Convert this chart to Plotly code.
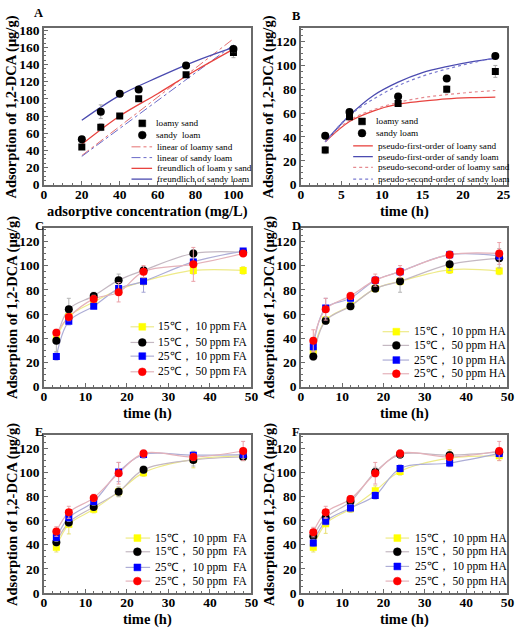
import plotly.graph_objects as go

FONT = "Liberation Serif, Times New Roman, serif"
W, H = 524, 638

# ---------------- Panel A data ----------------
A_conc = [20, 30, 40, 50, 75, 100]
A_loamy = [44, 67, 80, 100, 128, 154]
A_loamy_err = [3, 4, 2, 3, 2, 6]
A_sandy = [53, 85, 106, 111, 139, 158]
A_sandy_err = [3, 8, 2, 3, 2, 4]
A_lin_x = [20, 100]
A_lin_loamy = [34, 170]
A_lin_sandy = [33, 163]
A_fr_x = [20, 40, 60, 80, 100]
A_fr_loamy = [47, 80, 106, 133, 158]
A_fr_sandy = [75, 104, 125, 144, 160]

# ---------------- Panel B data ----------------
B_time = [3, 6, 12, 18, 24]
B_loamy = [29, 57, 68, 80, 95]
B_loamy_err = [3, 2, 2, 3, 5]
B_sandy = [41, 61, 74, 89, 108]
B_sandy_err = [2, 2, 2, 2, 2]
B_fit_x = [3, 6, 9, 12, 15, 18, 21, 24]
B_pfo_loamy = [36, 53, 62, 67.5, 70, 72, 73, 73.5]
B_pfo_sandy = [36, 58, 75, 86, 94, 99, 103, 106]
B_pso_loamy = [36, 54, 63, 69, 73, 75.5, 77.5, 79]
B_pso_sandy = [36, 58, 72, 83, 91, 97, 102, 106.5]

# ---------------- Panels C-F data ----------------
T = [3, 6, 12, 18, 24, 36, 48]

C_y10_15 = [40, 58, 70, 80, 87, 96, 96]
C_y50_15 = [38, 64, 75, 88, 96, 110, 111]
C_y10_25 = [25, 54, 66.5, 81, 87, 103, 112]
C_y50_25 = [44.5, 57.5, 72.5, 78, 95, 101, 110]
C_e10_15 = [3, 3, 3, 3, 3, 3, 3]
C_e50_15 = [9, 9, 3, 5, 3, 3, 2]
C_e10_25 = [3, 3, 2, 3, 9, 3, 2]
C_e50_25 = [3, 3, 3, 8, 5, 14, 2]

D_y10_15 = [30, 55, 67, 81, 87, 96.5, 95.5]
D_y50_15 = [25, 54.5, 66.5, 81, 87, 101, 106]
D_y10_25 = [33, 65, 73, 88, 95, 109, 108]
D_y50_25 = [38, 64, 75, 88, 95, 109, 110]
D_e10_15 = [3, 3, 3, 3, 3, 3, 3]
D_e50_15 = [3, 3, 3, 3, 9, 5, 8]
D_e10_25 = [3, 8, 3, 3, 3, 3, 3]
D_e50_25 = [9, 9, 3, 5, 5, 3, 9]

E_y10_15 = [38, 57, 69.5, 84, 100, 111, 114]
E_y50_15 = [42, 58.5, 71.5, 84, 102.5, 110.5, 113]
E_y10_25 = [46, 62.5, 76, 100.5, 115, 114.5, 115]
E_y50_25 = [51, 67, 79, 99.5, 116, 113, 118]
E_e10_15 = [4, 8, 3, 4, 3, 7, 4]
E_e50_15 = [3, 3, 3, 4, 3, 5, 3]
E_e10_25 = [3, 3, 3, 8, 3, 3, 3]
E_e50_25 = [4, 5, 3, 9, 3, 3, 8]

F_y10_15 = [38, 57.5, 70, 85, 101, 112, 114]
F_y50_15 = [47, 62.5, 76, 100.5, 115, 114.5, 117]
F_y10_25 = [41.5, 59.5, 70.5, 81, 103.5, 108, 116]
F_y50_25 = [50.5, 67, 78, 99.5, 116, 113, 118]
F_e10_15 = [4, 8, 3, 4, 3, 7, 4]
F_e50_15 = [3, 3, 3, 4, 3, 3, 3]
F_e10_25 = [3, 3, 3, 3, 3, 3, 3]
F_e50_25 = [4, 5, 3, 9, 3, 3, 8]

# ---------------- Labels ----------------
A_labels = ["loamy sand", "sandy\u00a0 loam", "linear of loamy sand", "linear of sandy loam",
            "freundlich of loam y sand", "freundlich of sandy loam"]
B_labels = ["loamy sand", "sandy loam", "pseudo-first-order of loany sand",
            "pseudo-first-order of sandy loam", "pseudo-second-order of loamy sand",
            "pseudo-second-order of sandy loam"]
C_labels = ["15℃，\u00a010 ppm FA", "15℃，\u00a050 ppm FA", "25℃，\u00a010 ppm FA", "25℃，\u00a050 ppm FA"]
D_labels = ["15℃，\u00a010 ppm HA", "15℃，\u00a050 ppm HA", "25℃，\u00a010 ppm HA", "25℃，\u00a050 ppm HA"]
E_labels = ["15℃，\u00a010 ppm\u00a0 FA", "15℃，\u00a050 ppm\u00a0 FA", "25℃，\u00a010 ppm\u00a0 FA", "25℃，\u00a050 ppm\u00a0 FA"]
F_labels = D_labels
panel_letters = ["A", "B", "C", "D", "E", "F"]
ytitle = "Adsorption of 1,2-DCA (μg/g)"

# ---------------- Styles ----------------
MK = {"yellow": "#ffff00", "black": "#000000", "blue": "#0000ff", "red": "#ff0000"}
LN = {"yellow": "#eeea88", "black": "#c4b8c2", "blue": "#adadd6", "red": "#e4b2ba"}
EB = {"yellow": "#e6de70", "black": "#b4b4b4", "blue": "#a4a4d4", "red": "#eaa0a8"}
RED_L = "#e8433f"
BLUE_L = "#4b4bb0"

fig = go.Figure()

def err(arr, color):
    return dict(type="data", array=arr, visible=True, color=color, thickness=1, width=2)

# Panel A
fig.add_trace(go.Scatter(x=A_lin_x, y=A_lin_loamy, mode="lines", line=dict(color="#e57070", width=1, dash="dashdot"), xaxis="x", yaxis="y"))
fig.add_trace(go.Scatter(x=A_lin_x, y=A_lin_sandy, mode="lines", line=dict(color="#6a6ac8", width=1, dash="dashdot"), xaxis="x", yaxis="y"))
fig.add_trace(go.Scatter(x=A_fr_x, y=A_fr_loamy, mode="lines", line=dict(color=RED_L, width=1.3, shape="spline"), xaxis="x", yaxis="y"))
fig.add_trace(go.Scatter(x=A_fr_x, y=A_fr_sandy, mode="lines", line=dict(color=BLUE_L, width=1.3, shape="spline"), xaxis="x", yaxis="y"))
fig.add_trace(go.Scatter(x=A_conc, y=A_loamy, mode="markers", marker=dict(symbol="square", size=7, color="black"),
                         error_y=err(A_loamy_err, "#a8a8a8"), xaxis="x", yaxis="y"))
fig.add_trace(go.Scatter(x=A_conc, y=A_sandy, mode="markers", marker=dict(symbol="circle", size=8, color="black"),
                         error_y=err(A_sandy_err, "#a8a8a8"), xaxis="x", yaxis="y"))

# Panel B
fig.add_trace(go.Scatter(x=B_fit_x, y=B_pfo_loamy, mode="lines", line=dict(color=RED_L, width=1.3, shape="spline"), xaxis="x2", yaxis="y2"))
fig.add_trace(go.Scatter(x=B_fit_x, y=B_pfo_sandy, mode="lines", line=dict(color=BLUE_L, width=1.3, shape="spline"), xaxis="x2", yaxis="y2"))
fig.add_trace(go.Scatter(x=B_fit_x, y=B_pso_loamy, mode="lines", line=dict(color="#e58a90", width=1.2, dash="dot", shape="spline"), xaxis="x2", yaxis="y2"))
fig.add_trace(go.Scatter(x=B_fit_x, y=B_pso_sandy, mode="lines", line=dict(color="#7a7ad0", width=1.2, dash="dot", shape="spline"), xaxis="x2", yaxis="y2"))
fig.add_trace(go.Scatter(x=B_time, y=B_loamy, mode="markers", marker=dict(symbol="square", size=7, color="black"),
                         error_y=err(B_loamy_err, "#a8a8a8"), xaxis="x2", yaxis="y2"))
fig.add_trace(go.Scatter(x=B_time, y=B_sandy, mode="markers", marker=dict(symbol="circle", size=8, color="black"),
                         error_y=err(B_sandy_err, "#a8a8a8"), xaxis="x2", yaxis="y2"))

# Panels C-F
series_keys = ["yellow", "black", "blue", "red"]
series_sym = ["square", "circle", "square", "circle"]
panels = [
    ("x3", "y3", [C_y10_15, C_y50_15, C_y10_25, C_y50_25], [C_e10_15, C_e50_15, C_e10_25, C_e50_25]),
    ("x4", "y4", [D_y10_15, D_y50_15, D_y10_25, D_y50_25], [D_e10_15, D_e50_15, D_e10_25, D_e50_25]),
    ("x5", "y5", [E_y10_15, E_y50_15, E_y10_25, E_y50_25], [E_e10_15, E_e50_15, E_e10_25, E_e50_25]),
    ("x6", "y6", [F_y10_15, F_y50_15, F_y10_25, F_y50_25], [F_e10_15, F_e50_15, F_e10_25, F_e50_25]),
]
for xa, ya, ys, es in panels:
    for k, sym, yv, ev in zip(series_keys, series_sym, ys, es):
        fig.add_trace(go.Scatter(x=T, y=yv, mode="lines", line=dict(color=LN[k], width=1.2, shape="spline", smoothing=1.0),
                                 xaxis=xa, yaxis=ya))
    for k, sym, yv, ev in zip(series_keys, series_sym, ys, es):
        fig.add_trace(go.Scatter(x=T, y=yv, mode="markers",
                                 marker=dict(symbol=sym, size=7 if sym == "square" else 8, color=MK[k]),
                                 error_y=err(ev, EB[k]), xaxis=xa, yaxis=ya))

# ---------------- Axes ----------------
tickfont = dict(family=FONT, size=13.5, color="black", weight="bold")
def ax(domain, rng, dtick, anchor, standoff=None):
    d = dict(domain=domain, range=rng, dtick=dtick, tick0=0, anchor=anchor,
             showline=True, linecolor="#6a6a6a", linewidth=1.5, mirror=True,
             ticks="inside", ticklen=4, tickwidth=1, tickcolor="#6a6a6a",
             minor=dict(ticks="inside", ticklen=2, tickcolor="#6a6a6a", showgrid=False),
             showgrid=False, zeroline=False, tickfont=tickfont, ticklabeloverflow="allow")
    if standoff is not None:
        d["ticklabelstandoff"] = standoff
    return d

XL = [41.7 / W, 253.3 / W]
XR = [303.7 / W, 514.3 / W]
Y1 = [1 - 182.7 / H, 1 - 23 / H]
Y2 = [1 - 389.3 / H, 1 - 227 / H]
Y3 = [1 - 600 / H, 1 - 439 / H]

SO = -4
layout_axes = dict(
    xaxis=ax(XL, [0, 109.5], 20, "y", SO), yaxis=ax(Y1, [0, 182], 20, "x"),
    xaxis2=ax(XR, [0, 25.5], 5, "y2", SO), yaxis2=ax(Y1, [0, 131], 20, "x2"),
    xaxis3=ax(XL, [0, 50], 10, "y3", SO), yaxis3=ax(Y2, [0, 131], 20, "x3"),
    xaxis4=ax(XR, [0, 50], 10, "y4", SO), yaxis4=ax(Y2, [0, 131], 20, "x4"),
    xaxis5=ax(XL, [0, 50], 10, "y5", SO), yaxis5=ax(Y3, [0, 131], 20, "x5"),
    xaxis6=ax(XR, [0, 50], 10, "y6", SO), yaxis6=ax(Y3, [0, 131], 20, "x6"),
)

# ---------------- Annotations / manual legends ----------------
ann = []
shapes = []

def px(x): return x / W
def py(y): return 1 - y / H

def text(x, y, s, size, bold=False, angle=0, anchor="center"):
    ann.append(dict(x=px(x), y=py(y), xref="paper", yref="paper", text=s, showarrow=False,
                    xanchor=anchor, yanchor="middle", textangle=angle,
                    font=dict(family=FONT, size=size, color="black", weight="bold" if bold else "normal")))

def marker_shape(cx, cy, sym, color, size=7):
    h = size / 2
    shapes.append(dict(type="rect" if sym == "square" else "circle", xref="paper", yref="paper",
                       x0=px(cx - h), x1=px(cx + h), y0=py(cy + h), y1=py(cy - h),
                       fillcolor=color, line=dict(color=color, width=0.5), layer="above"))

def line_shape(x0, x1, y, color, dash="solid", width=1.2):
    shapes.append(dict(type="line", xref="paper", yref="paper", x0=px(x0), x1=px(x1), y0=py(y), y1=py(y),
                       line=dict(color=color, width=width, dash=dash), layer="above"))

# axis titles
text(147.5, 210, "adsorptive concentration (mg/L)", 14.5, bold=True)
text(409, 210, "time (h)", 14.5, bold=True)
for cx in (147.5, 409):
    text(cx, 417, "time (h)", 14.5, bold=True)
    text(cx, 627, "time (h)", 14.5, bold=True)
for cx in (9, 271):
    for cy in (103, 308, 519.5):
        text(cx, cy, ytitle, 14.5, bold=True, angle=-90)

# panel letters
for (lx, ly), L in zip([(36, 7), (299, 10), (37, 225), (299, 225), (37, 436), (299, 436)], panel_letters):
    text(lx, ly, L, 12.5, bold=True)

# Legend A
A_leg_y = [120, 132, 144, 155, 166, 177]
marker_shape(142, A_leg_y[0], "square", "black")
marker_shape(142, A_leg_y[1], "circle", "black", 8)
line_shape(131, 152, A_leg_y[2], "#e57070", "dashdot", 1)
line_shape(131, 152, A_leg_y[3], "#6a6ac8", "dashdot", 1)
line_shape(131, 152, A_leg_y[4], RED_L, "solid", 1.3)
line_shape(131, 152, A_leg_y[5], BLUE_L, "solid", 1.3)
for i, s in enumerate(A_labels):
    text(154 if i < 2 else 155, A_leg_y[i], s, 9.2, anchor="left")

# Legend B
B_leg_y = [118, 130, 143, 154, 165, 177]
marker_shape(366, B_leg_y[0], "square", "black")
marker_shape(366, B_leg_y[1], "circle", "black", 8)
line_shape(357, 377, B_leg_y[2], RED_L, "solid", 1.3)
line_shape(357, 377, B_leg_y[3], BLUE_L, "solid", 1.3)
line_shape(357, 377, B_leg_y[4], "#e58a90", "dot", 1.2)
line_shape(357, 377, B_leg_y[5], "#7a7ad0", "dot", 1.2)
for i, s in enumerate(B_labels):
    text(378 if i < 2 else 380, B_leg_y[i], s, 9.2, anchor="left")

# Legends C-F
leg_specs = [
    (142, 130, 154, 156, [328, 344, 358, 374], C_labels),
    (401, 387, 414, 417, [333, 347, 362, 376], D_labels),
    (137, 125, 150, 153, [544, 558, 574, 588], E_labels),
    (402, 390, 414, 418, [544, 558, 573, 588], F_labels),
]
for mx, lx0, lx1, tx, ys, labels in leg_specs:
    for k, sym, yy, s in zip(series_keys, series_sym, ys, labels):
        line_shape(lx0, lx1, yy, LN[k], "solid", 1.2)
        marker_shape(mx, yy, sym, MK[k], 7 if sym == "square" else 8)
        text(tx, yy, s, 11.5, anchor="left")

fig.update_layout(
    width=W, height=H, autosize=False,
    margin=dict(l=0, r=0, t=0, b=0),
    paper_bgcolor="white", plot_bgcolor="white",
    showlegend=False,
    font=dict(family=FONT),
    annotations=ann, shapes=shapes,
    **layout_axes,
)

fig.write_html("out.html", config={"displayModeBar": False},
               post_script="document.body.style.margin='0';document.body.style.overflow='hidden';")
